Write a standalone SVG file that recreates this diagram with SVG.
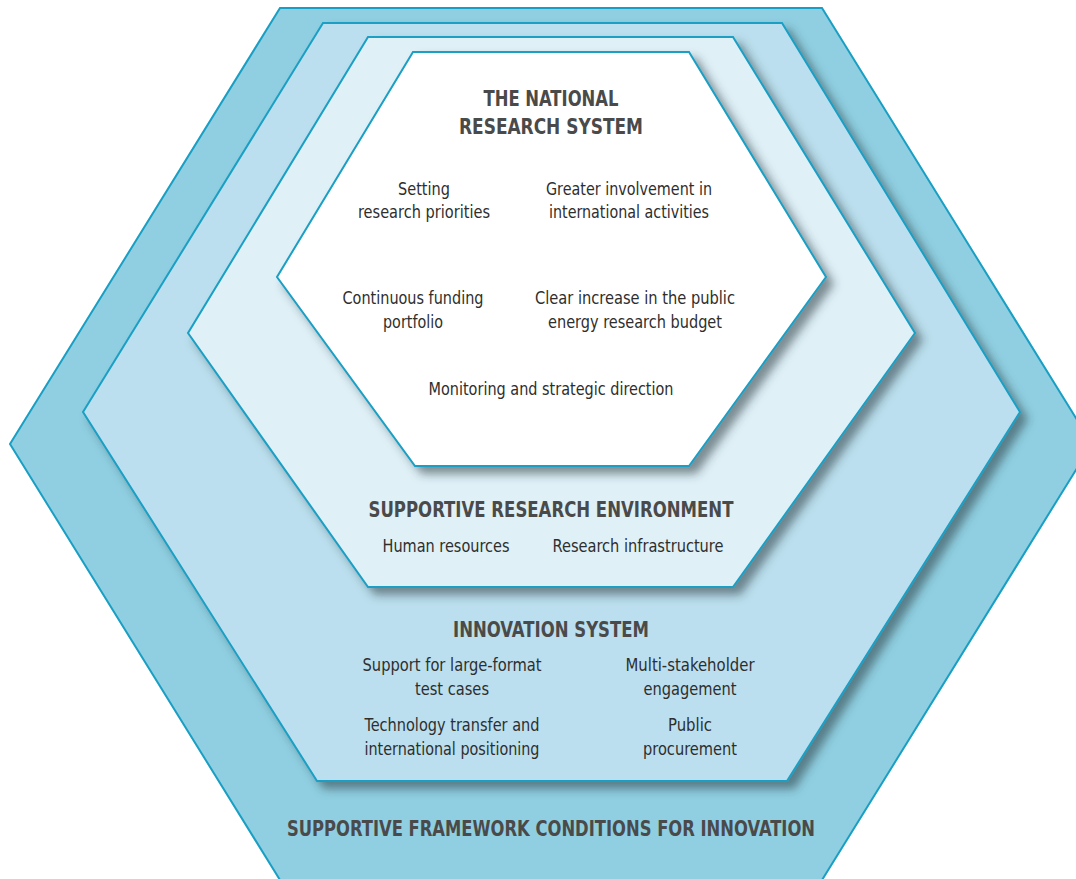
<svg xmlns="http://www.w3.org/2000/svg" width="1076" height="879" viewBox="0 0 1076 879">
<style>
.hex{stroke:#1a9fc4;stroke-width:2;stroke-linejoin:miter}
.t{font-family:"Liberation Sans Narrow","DejaVu Sans Condensed","Liberation Sans",Arial,sans-serif;font-size:18px;fill:#2e2e2e;text-anchor:middle}
.b{font-family:"Liberation Sans Narrow","DejaVu Sans Condensed","Liberation Sans",Arial,sans-serif;font-size:21px;font-weight:bold;fill:#4a4a4a;text-anchor:middle}
</style>
<defs>
<filter id="sh" x="-10%" y="-10%" width="125%" height="125%">
<feDropShadow dx="7" dy="7" stdDeviation="5" flood-color="#2a3a40" flood-opacity="0.55"/>
</filter>
</defs>
<rect width="1076" height="879" fill="#ffffff"/>
<g id="framework">
<polygon class="hex" fill="#8fcfe1" points="280,8 822,8 1092,444 822,880 280,880 10,444"/>
<text class="b" x="551" y="836" textLength="528" lengthAdjust="spacingAndGlyphs">SUPPORTIVE FRAMEWORK CONDITIONS FOR INNOVATION</text>
</g>
<g id="innovation">
<polygon class="hex" fill="#bbdfee" filter="url(#sh)" points="323,23 782,23 1020,412 787,781 317,781 83,412"/>
<text class="b" x="551" y="637" textLength="196" lengthAdjust="spacingAndGlyphs">INNOVATION SYSTEM</text>
<text class="t" x="452" y="671" textLength="179" lengthAdjust="spacingAndGlyphs">Support for large-format</text>
<text class="t" x="452" y="695" textLength="74" lengthAdjust="spacingAndGlyphs">test cases</text>
<text class="t" x="690" y="671" textLength="129" lengthAdjust="spacingAndGlyphs">Multi-stakeholder</text>
<text class="t" x="690" y="695" textLength="93" lengthAdjust="spacingAndGlyphs">engagement</text>
<text class="t" x="452" y="731" textLength="175" lengthAdjust="spacingAndGlyphs">Technology transfer and</text>
<text class="t" x="452" y="755" textLength="175" lengthAdjust="spacingAndGlyphs">international positioning</text>
<text class="t" x="690" y="731" textLength="44" lengthAdjust="spacingAndGlyphs">Public</text>
<text class="t" x="690" y="755" textLength="94" lengthAdjust="spacingAndGlyphs">procurement</text>
</g>
<g id="environment">
<polygon class="hex" fill="#dff0f7" filter="url(#sh)" points="368,37 733,37 915,333 733,587 368,587 188,333"/>
<text class="b" x="551" y="517" textLength="365" lengthAdjust="spacingAndGlyphs">SUPPORTIVE RESEARCH ENVIRONMENT</text>
<text class="t" x="446" y="552" textLength="127" lengthAdjust="spacingAndGlyphs">Human resources</text>
<text class="t" x="638" y="552" textLength="171" lengthAdjust="spacingAndGlyphs">Research infrastructure</text>
</g>
<g id="national">
<polygon class="hex" fill="#ffffff" filter="url(#sh)" points="413,52 689,52 826,277 689,466 415,466 277,277"/>
<text class="b" x="551" y="106" textLength="135" lengthAdjust="spacingAndGlyphs">THE NATIONAL</text>
<text class="b" x="551" y="134" textLength="184" lengthAdjust="spacingAndGlyphs">RESEARCH SYSTEM</text>
<text class="t" x="424" y="195" textLength="52" lengthAdjust="spacingAndGlyphs">Setting</text>
<text class="t" x="424" y="218" textLength="132" lengthAdjust="spacingAndGlyphs">research priorities</text>
<text class="t" x="629" y="195" textLength="166" lengthAdjust="spacingAndGlyphs">Greater involvement in</text>
<text class="t" x="629" y="218" textLength="160" lengthAdjust="spacingAndGlyphs">international activities</text>
<text class="t" x="413" y="304" textLength="141" lengthAdjust="spacingAndGlyphs">Continuous funding</text>
<text class="t" x="413" y="328" textLength="60" lengthAdjust="spacingAndGlyphs">portfolio</text>
<text class="t" x="635" y="304" textLength="200" lengthAdjust="spacingAndGlyphs">Clear increase in the public</text>
<text class="t" x="635" y="328" textLength="174" lengthAdjust="spacingAndGlyphs">energy research budget</text>
<text class="t" x="551" y="395" textLength="245" lengthAdjust="spacingAndGlyphs">Monitoring and strategic direction</text>
</g>
<g id="connectors"/>
</svg>
